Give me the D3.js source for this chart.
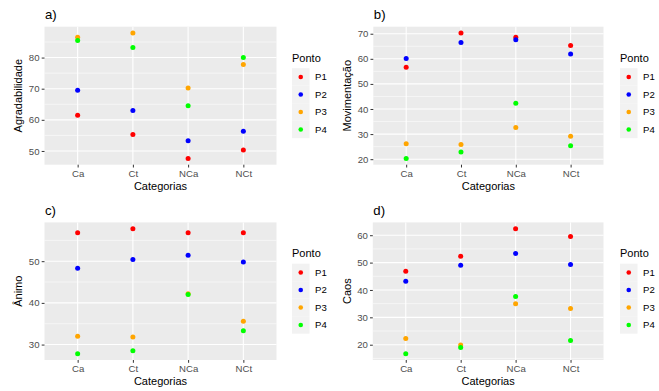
<!DOCTYPE html>
<html>
<head>
<meta charset="utf-8">
<script src="https://cdn.jsdelivr.net/npm/d3@7"></script>
<style>
  html, body { margin: 0; padding: 0; background: #fff; }
  svg { display: block; font-family: "Liberation Sans", Arial, sans-serif; }
</style>
</head>
<body>
<svg id="chart" width="659" height="391"></svg>
<script>
// ---------- data ----------
const categories = ["Ca", "Ct", "NCa", "NCt"];
const seriesNames = ["P1", "P2", "P3", "P4"];
const seriesColors = ["#FF0000", "#0000FF", "#FFA500", "#00FF00"];

// values per series (P1..P4), one value per category (Ca, Ct, NCa, NCt)
const agradabilidade = [
  [61.5, 55.3, 47.6, 50.3],
  [69.5, 63.0, 53.3, 56.3],
  [86.5, 87.9, 70.2, 77.8],
  [85.5, 83.2, 64.5, 80.0]
];
const movimentacao = [
  [56.6, 70.3, 68.6, 65.3],
  [60.1, 66.5, 67.6, 61.9],
  [26.1, 25.9, 32.6, 29.1],
  [20.3, 22.9, 42.3, 25.4]
];
const animo = [
  [56.8, 57.8, 56.8, 56.8],
  [48.3, 50.4, 51.4, 49.8],
  [32.0, 31.8, 42.2, 35.6],
  [27.8, 28.5, 42.0, 33.3]
];
const caos = [
  [46.8, 52.3, 62.4, 59.5],
  [43.2, 49.0, 53.3, 49.3],
  [22.3, 19.9, 35.0, 33.2],
  [16.7, 19.0, 37.6, 21.5]
];

const agradTicks = [50, 60, 70, 80];
const movTicks = [20, 30, 40, 50, 60, 70];
const animoTicks = [30, 40, 50];
const caosTicks = [20, 30, 40, 50, 60];

const xTitle = "Categorias";
const legendTitle = "Ponto";

// ---------- layout ----------
const panels = [
  { tag: "a)", ytitle: "Agradabilidade", values: agradabilidade, ticks: agradTicks,
    x0: 44.5, x1: 276.5, y0: 26.7, y1: 164.7, ytx: 22, lgx: 292 },
  { tag: "b)", ytitle: "Movimentação", values: movimentacao, ticks: movTicks,
    x0: 373.3, x1: 603.5, y0: 26.7, y1: 164.7, ytx: 350.5, lgx: 620 },
  { tag: "c)", ytitle: "Ânimo", values: animo, ticks: animoTicks,
    x0: 44.5, x1: 276.5, y0: 222.4, y1: 360, ytx: 22, lgx: 292 },
  { tag: "d)", ytitle: "Caos", values: caos, ticks: caosTicks,
    x0: 372.8, x1: 603.5, y0: 222.4, y1: 360, ytx: 350.5, lgx: 620 }
];

const svg = d3.select("#chart");

panels.forEach(p => {
  const g = svg.append("g");
  const all = p.values.flat();
  const [mn, mx] = d3.extent(all);
  const pad = (mx - mn) * 0.05;
  const y = d3.scaleLinear().domain([mn - pad, mx + pad]).range([p.y1, p.y0]);
  const x = d3.scalePoint().domain(categories).range([p.x0, p.x1]).padding(0.6);

  // panel background
  g.append("rect").attr("x", p.x0).attr("y", p.y0)
    .attr("width", p.x1 - p.x0).attr("height", p.y1 - p.y0).attr("fill", "#EBEBEB");

  // minor grid
  const step = p.ticks[1] - p.ticks[0];
  const ext = [p.ticks[0] - step, ...p.ticks, p.ticks[p.ticks.length - 1] + step];
  const minors = [];
  for (let i = 0; i < ext.length - 1; i++) minors.push((ext[i] + ext[i + 1]) / 2);
  const dom = y.domain();
  g.selectAll(".minor").data(minors.filter(v => v >= dom[0] && v <= dom[1])).enter()
    .append("line")
    .attr("x1", p.x0).attr("x2", p.x1)
    .attr("y1", d => y(d)).attr("y2", d => y(d))
    .attr("stroke", "#fff").attr("stroke-width", 0.55);

  // major grid
  g.selectAll(".majy").data(p.ticks).enter().append("line")
    .attr("x1", p.x0).attr("x2", p.x1)
    .attr("y1", d => y(d)).attr("y2", d => y(d))
    .attr("stroke", "#fff").attr("stroke-width", 1.1);
  g.selectAll(".majx").data(categories).enter().append("line")
    .attr("x1", d => x(d)).attr("x2", d => x(d))
    .attr("y1", p.y0).attr("y2", p.y1)
    .attr("stroke", "#fff").attr("stroke-width", 1.1);

  // axes
  const yAxis = d3.axisLeft(y).tickValues(p.ticks).tickSize(2.8).tickPadding(2.2);
  const ya = g.append("g").attr("transform", `translate(${p.x0},0)`).call(yAxis);
  const xAxis = d3.axisBottom(x).tickSize(2.8).tickPadding(2.2);
  const xa = g.append("g").attr("transform", `translate(0,${p.y1})`).call(xAxis);
  [ya, xa].forEach(a => {
    a.select(".domain").remove();
    a.selectAll(".tick line").attr("stroke", "#333333").attr("stroke-width", 1);
    a.selectAll(".tick text").attr("fill", "#4D4D4D").attr("font-size", 9.6)
      .attr("font-family", "Liberation Sans, Arial, sans-serif");
  });

  // points
  p.values.forEach((vals, si) => {
    g.selectAll(null).data(vals).enter().append("circle")
      .attr("cx", (d, i) => x(categories[i]))
      .attr("cy", d => y(d))
      .attr("r", 2.5)
      .attr("fill", seriesColors[si]);
  });

  // titles
  g.append("text").attr("x", p.x0 + 0.5).attr("y", p.y0 - 7.5)
    .attr("font-size", 13.2).attr("fill", "#000").text(p.tag);
  g.append("text").attr("x", (p.x0 + p.x1) / 2).attr("y", p.y1 + 24.8)
    .attr("text-anchor", "middle").attr("font-size", 11).attr("fill", "#000").text(xTitle);
  g.append("text")
    .attr("transform", `translate(${p.ytx},${(p.y0 + p.y1) / 2}) rotate(-90)`)
    .attr("text-anchor", "middle").attr("font-size", 11).attr("fill", "#000").text(p.ytitle);

  // legend
  const lgCenter = (p.y0 + p.y1) / 2;
  const keyH = 17.5;
  const boxTop = lgCenter - 27.5;
  g.append("text").attr("x", p.lgx).attr("y", boxTop - 6.5)
    .attr("font-size", 11).attr("fill", "#000").text(legendTitle);
  seriesNames.forEach((s, i) => {
    const ky = boxTop + i * keyH;
    g.append("rect").attr("x", p.lgx).attr("y", ky).attr("width", keyH).attr("height", keyH)
      .attr("fill", "#F2F2F2");
    g.append("circle").attr("cx", p.lgx + keyH / 2).attr("cy", ky + keyH / 2)
      .attr("r", 2.3).attr("fill", seriesColors[i]);
    g.append("text").attr("x", p.lgx + keyH + 5.5).attr("y", ky + keyH / 2)
      .attr("dy", "0.35em").attr("font-size", 9.6).attr("fill", "#000").text(s);
  });
});
</script>
</body>
</html>
